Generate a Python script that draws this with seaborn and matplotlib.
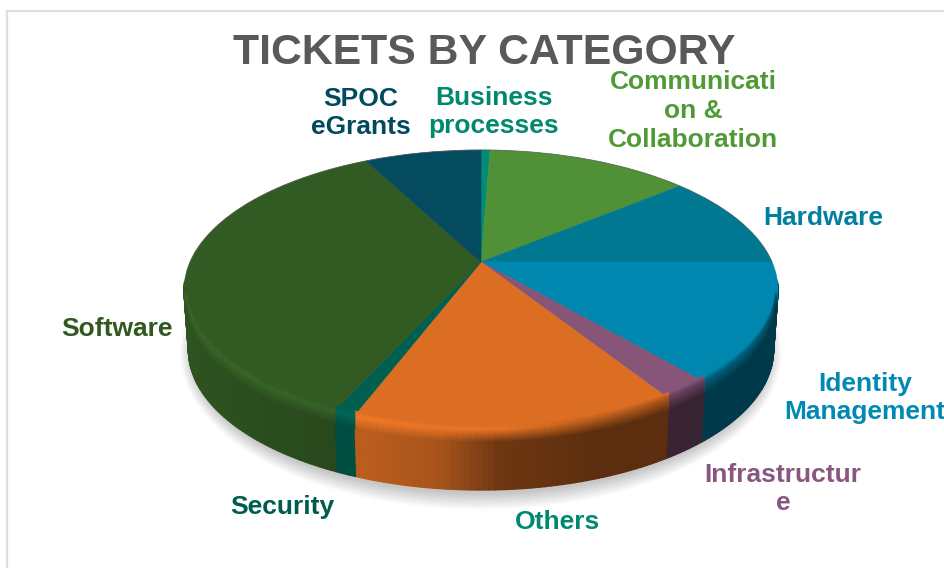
import numpy as np
import matplotlib
matplotlib.use("Agg")
import matplotlib.pyplot as plt
import seaborn as sns
from matplotlib.patches import Ellipse, Polygon
from matplotlib.collections import LineCollection
from matplotlib.transforms import Transform
from matplotlib.colors import to_rgb

categories = ["Business\nprocesses", "Communicati\non &\nCollaboration", "Hardware",
              "Identity\nManagement", "Infrastructur\ne", "Others", "Security",
              "Software", "SPOC\neGrants"]
shares = [0.6, 13.4, 11.0, 13.7, 2.3, 14.8, 1.0, 35.5, 7.7]
face_colors = ["#008C78", "#509137", "#007891", "#0087AF", "#875578", "#DC6E23",
               "#005F50", "#325A23", "#054B5F"]
label_colors = ["#00896F", "#4E9A35", "#007F9E", "#0089B5", "#875781", "#00896F",
                "#005C4F", "#31591F", "#004A5F"]
title = "TICKETS BY CATEGORY"

label_xy = [(494, 112), (693, 111), (823, 218), (865, 398), (783, 489), (558, 522),
            (282, 507), (117, 329), (361, 113)]

sns.set_theme(style="white")
plt.rcParams["font.family"] = ["Liberation Sans", "DejaVu Sans"]

CX, CY, RX, RY, APEX = 481.0, 290.0, 297.0, 140.0, 28.0
DEPTH = 60.0
K = APEX / RY
D = RX * np.sqrt(1 - K ** 2)


def project(x, y):
    w = 1 + K * y
    return CX + D * x / w, CY - (RY * y + APEX) / w


class Perspective(Transform):
    input_dims = output_dims = 2
    is_affine = False
    has_inverse = False

    def transform_non_affine(self, values):
        v = np.asarray(values, float)
        px, py = project(v[:, 0], v[:, 1])
        return np.column_stack([px, py])


def shade(px):
    return np.interp(px, [184, 340, 365, 440, 500, 600, 778],
                     [0.92, 0.80, 0.85, 0.76, 0.50, 0.42, 0.42])


def lip_gain(px):
    return np.interp(px, [184, 500, 600, 778], [1.15, 1.05, 0.85, 0.65])


fig = plt.figure(figsize=(9.45, 5.68), dpi=100)
ax = fig.add_axes([0, 0, 1, 1])

palette = sns.color_palette(face_colors)
wedges, _ = ax.pie(shares, colors=palette, startangle=90, counterclock=False,
                   wedgeprops={"linewidth": 0.4}, normalize=True)
ax.set_aspect("auto")
ax.set_xlim(0, 945)
ax.set_ylim(568, 0)
ax.axis("off")

# page frame
ax.plot([6.5, 6.5, 945], [568, 11, 11], color="#DEDEDE", lw=1.6, zorder=0)

# soft shadow
for i in range(14):
    ax.add_patch(Ellipse((CX, CY + DEPTH + 3), 2 * (RX - 8 + i * 0.9), 2 * (RY + 1 + i * 1.2),
                         facecolor="black", edgecolor="none", alpha=0.016, zorder=1))

rows = np.arange(-5.0, 14.0, 1.0)

# side wall and rim, built from each wedge's angles
for wedge, col in zip(wedges, palette):
    wedge.set_transform(Perspective() + ax.transData)
    wedge.set_edgecolor(col)
    wedge.set_zorder(5)
    t1, t2 = wedge.theta1, wedge.theta2
    n = max(3, int((t2 - t1) / 1.0))
    th = np.radians(np.linspace(t1, t2, n + 1))
    px, py = project(np.cos(th), np.sin(th))
    base = np.array(to_rgb(col))
    for j in range(n):
        if py[j] < CY - 8 and py[j + 1] < CY - 8:
            continue
        xm = 0.5 * (px[j] + px[j + 1])
        c = tuple(base * shade(xm))
        bx = CX + (px[[j + 1, j]] - CX) * 0.985
        poly = [(px[j], py[j]), (px[j + 1], py[j + 1]),
                (bx[0], py[j + 1] + DEPTH), (bx[1], py[j] + DEPTH)]
        ax.add_patch(Polygon(poly, closed=True, facecolor=c, edgecolor=c, lw=1.0, zorder=3))
    # soft bevel rows straddling the rim
    segs, cols = [], []
    for dy in rows:
        for j in range(n):
            ym = 0.5 * (py[j] + py[j + 1])
            if ym < CY + 6:
                continue
            xm = 0.5 * (px[j] + px[j + 1])
            lip = np.clip(base * lip_gain(xm), 0, 1)
            wall = base * shade(xm)
            if dy < 0:
                mixed = base + (lip - base) * (dy + 5) / 5
            else:
                mixed = lip + (wall - lip) * dy / 13
            inset = CX + (px[j:j + 2] - CX) * 0.995
            segs.append(np.column_stack([inset, py[j:j + 2] + dy]))
            cols.append(tuple(mixed))
    if segs:
        ax.add_collection(LineCollection(segs, colors=cols, linewidths=1.6,
                                         capstyle="projecting", zorder=6), autolim=False)

# thin grey outline on the back of the pie
bt = np.radians(np.linspace(0, 180, 200))
bx, by = project(np.cos(bt), np.sin(bt))
ax.plot(bx, by, color="#5A5A5A", lw=0.7, alpha=0.6, zorder=6)

ax.text(484, 53, title, color="#595959", fontsize=30.8, fontweight="bold",
        ha="center", va="center", zorder=8)
for name, col, (lx, ly) in zip(categories, label_colors, label_xy):
    ax.text(lx, ly, name, color=col, fontsize=19, fontweight="bold", ha="center",
            va="center", multialignment="center", linespacing=1.25, zorder=8)

fig.savefig("out.png", dpi=100)
